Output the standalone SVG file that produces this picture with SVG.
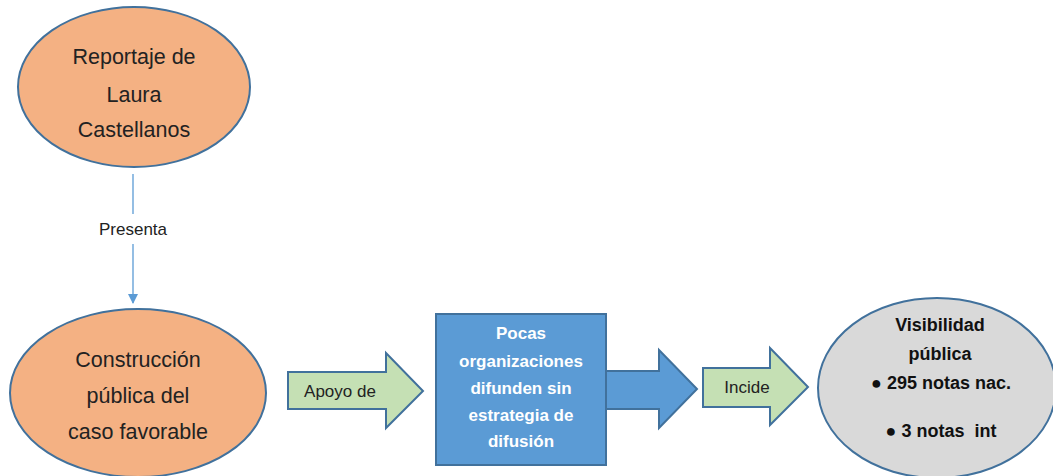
<svg xmlns="http://www.w3.org/2000/svg" width="1053" height="476" viewBox="0 0 1053 476">
<defs>
<style>
.oval{fill:#F4B183;stroke:#41719C;stroke-width:2}
.gray{fill:#D9D9D9;stroke:#41719C;stroke-width:2}
.green{fill:#C5E0B4;stroke:#41719C;stroke-width:2}
.blue{fill:#5B9BD5;stroke:#41719C;stroke-width:2}
.t{font-family:"Liberation Sans",Arial,sans-serif;text-anchor:middle;fill:#222}
.big{font-size:21.5px}
.mid{font-size:17px}
.wb{font-size:17px;font-weight:bold;fill:#FFFFFF}
.gb{font-size:18px;font-weight:bold;fill:#111;white-space:pre}
.conn{stroke:#5B9BD5;stroke-width:1.3;fill:none}
</style>
<marker id="ah" markerWidth="10" markerHeight="10" refX="9" refY="5" orient="auto" markerUnits="userSpaceOnUse">
<path d="M0,0 L10,5 L0,10 z" fill="#5B9BD5"/>
</marker>
</defs>
<rect width="1053" height="476" fill="#FFFFFF"/>
<g id="connectors">
<line class="conn" x1="133" y1="174" x2="133" y2="214"/>
<line class="conn" x1="133" y1="244" x2="133" y2="303" marker-end="url(#ah)"/>
<text class="t mid" x="133" y="235">Presenta</text>
</g>
<g id="reportaje">
<ellipse class="oval" cx="134" cy="87" rx="116" ry="80"/>
<text class="t big" x="134" y="64">Reportaje de</text>
<text class="t big" x="134" y="102">Laura</text>
<text class="t big" x="134" y="137">Castellanos</text>
</g>
<g id="construccion">
<ellipse class="oval" cx="138" cy="393" rx="128" ry="84"/>
<text class="t big" x="138" y="367">Construcción</text>
<text class="t big" x="138" y="403">pública del</text>
<text class="t big" x="138" y="439">caso favorable</text>
</g>
<g id="apoyo">
<path class="green" d="M288,372 L386,372 L386,353 L423,391 L386,428 L386,409 L288,409 Z"/>
<text class="t mid" x="340" y="397">Apoyo de</text>
</g>
<g id="pocas">
<path class="blue" d="M606,371 L659,371 L659,350 L697,389 L659,428 L659,409 L606,409 Z"/>
<rect class="blue" x="436" y="314" width="170" height="151"/>
<text class="t wb" x="521" y="339">Pocas</text>
<text class="t wb" x="521" y="367">organizaciones</text>
<text class="t wb" x="521" y="394">difunden sin</text>
<text class="t wb" x="521" y="421">estrategia de</text>
<text class="t wb" x="521" y="447">difusión</text>
</g>
<g id="incide">
<path class="green" d="M703,368 L770,368 L770,348 L808,387 L770,425 L770,407 L703,407 Z"/>
<text class="t mid" x="747" y="393">Incide</text>
</g>
<g id="visibilidad">
<ellipse class="gray" cx="937" cy="388" rx="119" ry="90"/>
<text class="t gb" x="940" y="331">Visibilidad</text>
<text class="t gb" x="940" y="360">pública</text>
<text class="t gb" x="941" y="389" xml:space="preserve">● 295 notas nac.</text>
<text class="t gb" x="941" y="437" xml:space="preserve">● 3 notas  int</text>
</g>
</svg>
